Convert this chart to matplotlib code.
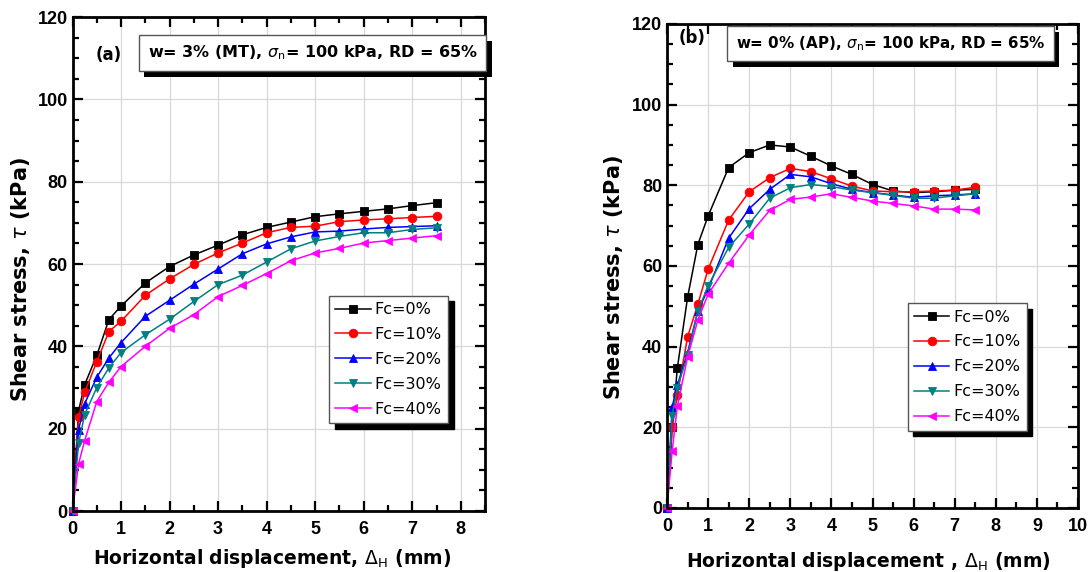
import matplotlib
matplotlib.use("Agg")
import matplotlib.pyplot as plt
import matplotlib.patheffects as pe
from matplotlib.ticker import MultipleLocator

# ---------------- data ----------------
labels = ["Fc=0%", "Fc=10%", "Fc=20%", "Fc=30%", "Fc=40%"]

x_a = [0, 0.125, 0.25, 0.5, 0.75, 1.0, 1.5, 2.0, 2.5, 3.0, 3.5, 4.0, 4.5, 5.0, 5.5, 6.0, 6.5, 7.0, 7.5]
a_fc0 = [0, 24.4, 30.7, 37.8, 46.5, 49.8, 55.4, 59.4, 62.2, 64.6, 67.1, 68.9, 70.2, 71.5, 72.2, 72.8, 73.4, 74.2, 74.9]
a_fc10 = [0, 22.8, 28.8, 36.3, 43.6, 46.1, 52.4, 56.4, 59.9, 62.7, 65.1, 67.6, 68.9, 69.2, 70.3, 70.7, 71.0, 71.3, 71.6]
a_fc20 = [0, 19.8, 26.1, 32.5, 37.2, 40.9, 47.3, 51.2, 55.1, 58.8, 62.5, 64.9, 66.6, 67.8, 68.0, 68.5, 68.9, 69.1, 69.3]
a_fc30 = [0, 16.5, 23.4, 30.0, 34.8, 38.5, 42.8, 46.6, 50.9, 55.0, 57.3, 60.5, 63.7, 65.6, 66.7, 67.6, 67.6, 68.4, 68.8]
a_fc40 = [0, 11.5, 17.1, 26.6, 31.3, 35.1, 40.0, 44.4, 47.7, 52.1, 54.8, 57.7, 60.8, 62.7, 63.8, 65.1, 65.7, 66.3, 66.9]

x_b = [0, 0.125, 0.25, 0.5, 0.75, 1.0, 1.5, 2.0, 2.5, 3.0, 3.5, 4.0, 4.5, 5.0, 5.5, 6.0, 6.5, 7.0, 7.5]
b_fc0 = [0, 20.0, 34.6, 52.2, 65.3, 72.4, 84.4, 88.1, 90.0, 89.5, 87.2, 84.8, 82.7, 80.2, 78.6, 78.2, 78.4, 78.8, 79.0]
b_fc10 = [0, 20.0, 27.9, 42.4, 50.5, 59.2, 71.4, 78.4, 81.9, 84.2, 83.4, 81.6, 79.8, 78.6, 78.4, 78.4, 78.6, 78.8, 79.5]
b_fc20 = [0, 25.0, 30.4, 38.5, 48.8, 54.3, 66.9, 74.2, 79.0, 82.7, 82.1, 80.4, 79.0, 78.2, 77.6, 77.0, 77.4, 77.6, 77.9]
b_fc30 = [0, 22.9, 29.8, 37.9, 48.8, 55.1, 64.6, 70.4, 76.8, 79.4, 80.2, 79.7, 78.8, 78.2, 77.5, 76.8, 76.8, 77.4, 77.9]
b_fc40 = [0, 14.1, 25.2, 37.4, 46.6, 53.0, 60.7, 67.7, 73.8, 76.5, 77.1, 77.9, 77.0, 76.1, 75.5, 74.9, 74.1, 74.1, 73.9]

colors = ["#000000", "#ff0000", "#0000ff", "#008080", "#ff00ff"]
markers = ["s", "o", "^", "v", "<"]

# ---------------- figure ----------------
fig = plt.figure(figsize=(10.89, 5.72), dpi=100)
ax_a = fig.add_axes([0.0666, 0.1066, 0.3788, 0.8636])
ax_b = fig.add_axes([0.6125, 0.1119, 0.3774, 0.8462])


def style_axes(ax, xmax, xlabel, xl_coords, yl_coords):
    ax.set_xlim(0, xmax)
    ax.set_ylim(0, 120)
    ax.xaxis.set_major_locator(MultipleLocator(1))
    ax.xaxis.set_minor_locator(MultipleLocator(0.5))
    ax.yaxis.set_major_locator(MultipleLocator(20))
    ax.yaxis.set_minor_locator(MultipleLocator(5))
    ax.tick_params(which="both", direction="in", top=True, right=True, width=1.6)
    ax.tick_params(which="major", length=7)
    ax.tick_params(which="minor", length=4)
    ax.tick_params(axis="x", which="major", pad=7)
    for lab in ax.get_xticklabels() + ax.get_yticklabels():
        lab.set_fontfamily("Liberation Sans")
        lab.set_fontweight("bold")
        lab.set_fontsize(13)
    for sp in ax.spines.values():
        sp.set_linewidth(2.0)
    ax.grid(True, which="major", color="#d9d9d9", linewidth=0.9)
    ax.set_axisbelow(True)
    ax.set_xlabel(xlabel, fontsize=13.5, fontweight="bold")
    ax.set_ylabel(r"Shear stress, $\tau$ (kPa)", fontsize=15, fontweight="bold")
    ax.xaxis.set_label_coords(*xl_coords)
    ax.yaxis.set_label_coords(*yl_coords)


def plot_series(ax, xs, series):
    for ys, c, m, lab in zip(series, colors, markers, labels):
        ax.plot(xs, ys, color=c, marker=m, markersize=6.2, linewidth=1.1,
                markeredgewidth=0.6, label=lab, clip_on=False)


def shadow_box(ax, x, y, s, fs):
    t = ax.text(x, y, s, transform=ax.transAxes, ha="center", va="center", fontsize=fs,
                fontweight="bold", color="black", zorder=6,
                bbox=dict(boxstyle="square,pad=0.55", fc="white", ec="#555555", lw=1.0))
    t.get_bbox_patch().set_path_effects([
        pe.SimplePatchShadow(offset=(4, -4), shadow_rgbFace="black", alpha=1),
        pe.Normal()])
    return t


def legend(ax, anchor):
    leg = ax.legend(loc="lower left", bbox_to_anchor=anchor, borderaxespad=0,
                    fontsize=11.5, labelspacing=0.62, handlelength=2.2,
                    handletextpad=0.25, borderpad=0.4, fancybox=False,
                    framealpha=1, edgecolor="#555555",
                    shadow={"ox": 4, "oy": -4, "color": "black", "alpha": 1})
    leg.get_frame().set_linewidth(1.0)
    return leg


plot_series(ax_a, x_a, [a_fc0, a_fc10, a_fc20, a_fc30, a_fc40])
plot_series(ax_b, x_b, [b_fc0, b_fc10, b_fc20, b_fc30, b_fc40])

style_axes(ax_a, 8.5, r"Horizontal displacement, $\Delta_\mathrm{H}$ (mm)",
           (0.484, -0.073), (-0.098, 0.468))
style_axes(ax_b, 10, r"Horizontal displacement , $\Delta_\mathrm{H}$ (mm)",
           (0.489, -0.087), (-0.102, 0.477))

legend(ax_a, (0.622, 0.178))
legend(ax_b, (0.586, 0.160))

shadow_box(ax_a, 0.582, 0.927, r"w= 3% (MT), $\sigma_\mathrm{n}$= 100 kPa, RD = 65%", 11.5)
shadow_box(ax_b, 0.544, 0.959, r"w= 0% (AP), $\sigma_\mathrm{n}$= 100 kPa, RD = 65%", 10.9)

ax_a.text(0.088, 0.923, "(a)", transform=ax_a.transAxes, ha="center", va="center",
          fontsize=12, fontweight="bold")
ax_b.text(0.061, 0.972, "(b)", transform=ax_b.transAxes, ha="center", va="center",
          fontsize=12, fontweight="bold")

fig.savefig("out.png", dpi=100)
